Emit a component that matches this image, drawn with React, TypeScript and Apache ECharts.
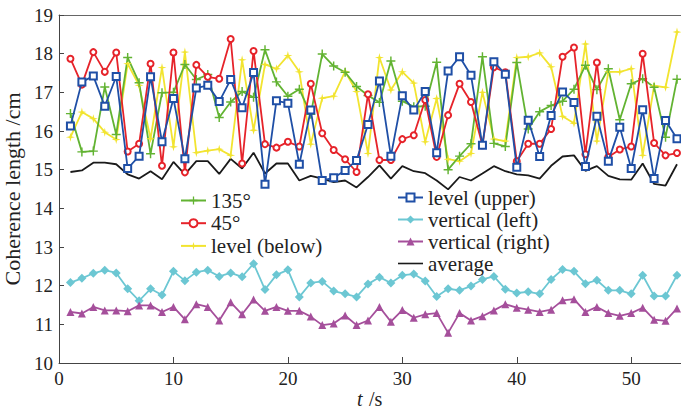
import React, { useEffect, useRef } from "react";
import * as echarts from "echarts";

const times = [1,2,3,4,5,6,7,8,9,10,11,12,13,14,15,16,17,18,19,20,21,22,23,24,25,26,27,28,29,30,31,32,33,34,35,36,37,38,39,40,41,42,43,44,45,46,47,48,49,50,51,52,53,54];

const deg135 = [16.45,15.46,15.48,17.14,15.91,17.9,17.25,15.41,16.99,17.0,17.72,17.33,17.46,16.35,16.75,17.02,16.87,18.1,17.27,16.9,17.08,16.43,17.99,17.68,17.52,17.15,16.92,16.74,17.81,16.77,16.63,16.64,17.78,15.0,15.35,15.67,17.92,15.68,15.6,17.77,16.05,16.5,16.66,16.77,17.08,17.7,17.07,17.61,16.29,17.22,17.35,17.13,15.84,17.34];
const deg45 = [17.87,17.2,18.04,17.53,18.03,15.47,15.67,17.74,15.1,18.03,14.93,17.71,17.4,17.35,18.38,15.16,18.07,15.66,15.57,15.72,15.6,17.22,15.94,15.51,15.27,14.94,16.95,15.25,15.25,15.79,15.89,16.8,15.33,16.41,17.22,16.75,15.63,17.65,17.52,15.22,15.67,15.67,16.05,17.92,18.16,15.4,17.77,15.33,15.52,15.6,18.0,15.69,15.37,15.43];
const levelBelow = [15.84,16.49,16.32,15.97,15.78,17.74,17.18,15.8,17.64,15.59,18.04,15.44,15.49,15.53,15.37,17.84,16.02,17.72,17.61,17.95,17.53,15.66,16.85,16.9,17.54,17.02,15.42,17.9,17.06,17.53,17.24,15.72,16.84,15.27,15.22,15.42,17.0,15.79,15.74,17.9,17.92,18.02,17.66,16.38,16.2,18.25,15.74,17.53,17.53,17.61,15.37,17.17,17.13,18.56];
const levelUpper = [16.13,17.27,17.42,16.64,17.41,15.03,15.35,17.4,15.72,16.84,15.28,17.11,17.18,16.76,17.33,16.6,17.51,14.62,16.78,16.72,15.14,16.54,14.72,14.79,14.98,15.24,16.17,17.29,15.35,16.91,16.54,17.02,15.44,17.55,17.92,17.44,15.63,17.79,17.47,15.06,16.28,15.34,16.4,17.01,16.74,15.08,16.38,15.22,16.1,15.03,16.55,14.77,16.27,15.8];
const verticalLeft = [12.08,12.19,12.32,12.4,12.33,11.92,11.61,11.92,11.76,12.37,12.13,12.35,12.4,12.24,12.33,12.23,12.57,11.9,12.28,12.41,11.71,12.07,12.11,11.86,11.79,11.71,12.04,12.22,12.07,12.27,12.3,12.12,11.72,11.92,11.88,11.99,12.16,12.24,11.91,11.81,11.84,11.79,12.16,12.42,12.37,12.05,12.14,11.88,11.88,11.79,12.27,11.73,11.73,12.27];
const verticalRight = [11.32,11.28,11.45,11.36,11.36,11.34,11.49,11.49,11.32,11.45,11.13,11.52,11.45,11.1,11.57,11.26,11.64,11.35,11.45,11.35,11.35,11.2,10.98,11.02,11.23,10.98,11.1,11.45,11.07,11.37,11.17,11.26,11.29,10.78,11.29,11.1,11.21,11.36,11.52,11.43,11.38,11.32,11.38,11.62,11.65,11.32,11.45,11.29,11.22,11.29,11.43,11.12,11.09,11.41];
const average = [14.94,14.98,15.18,15.18,15.14,14.88,14.77,14.96,14.75,15.2,14.88,15.22,15.22,14.89,15.28,15.03,15.44,14.9,15.16,15.16,14.72,14.84,14.77,14.68,14.72,14.54,14.81,15.11,14.77,15.09,14.96,14.91,14.72,14.49,14.81,14.72,14.9,15.09,14.96,14.88,14.85,14.77,15.1,15.34,15.37,14.97,15.09,14.84,14.75,14.74,15.16,14.63,14.59,15.14];

const legendLeft = ["135°", "45°", "level (below)"];
const legendRight = ["level (upper)", "vertical (left)", "vertical (right)", "average"];
const xNameVar = "t";
const xNameUnit = "/s";

const FONT = "'Liberation Serif', 'DejaVu Serif', serif";
const PLUS = "path://M4.2,0H5.8V4.2H10V5.8H5.8V10H4.2V5.8H0V4.2H4.2Z";
const STAR = "path://M5,0L6,4L10,5L6,6L5,10L4,6L0,5L4,4Z";
const LINE_ICON = "path://M0,4.2H25V5.8H0Z";

function pairs(vals: number[]) {
  return times.map((t, i) => [t, vals[i]]);
}

export default function App() {
  const ref = useRef<HTMLDivElement>(null);
  useEffect(() => {
    document.body.style.margin = "0";
    if (!ref.current) return;
    const chart = echarts.init(ref.current, null, { renderer: "svg" });
    const mk = (name: string, vals: number[], color: string, symbol: string, size: number, extra: any = {}) => ({
      name,
      type: "line",
      data: pairs(vals),
      symbol,
      symbolSize: size,
      showSymbol: symbol !== "none",
      lineStyle: { color, width: 1.8 },
      itemStyle: { color, borderColor: color, borderWidth: extra.borderWidth ?? 0 },
      z: extra.z ?? 2,
    });
    const legendText = { fontFamily: FONT, fontSize: 21, lineHeight: 20, color: "#222" };
    chart.setOption({
      animation: false,
      backgroundColor: "#fff",
      grid: { left: 59, top: 15, right: 0, bottom: 48, containLabel: false, outerBoundsMode: "none" },
      graphic: [
        {
          type: "text",
          left: 357,
          top: 389,
          style: { text: xNameVar, fontFamily: FONT, fontSize: 20, fontStyle: "italic", fill: "#222" },
        },
        {
          type: "text",
          left: 369,
          top: 389,
          style: { text: xNameUnit, fontFamily: FONT, fontSize: 20, fill: "#222" },
        },
      ],
      legend: [
        {
          data: legendLeft,
          orient: "vertical",
          left: 175,
          top: 185,
          itemWidth: 25,
          itemHeight: 10,
          itemGap: 1.7,
          textStyle: legendText,
        },
        {
          data: legendRight.map((n) => (n === "average" ? { name: n, icon: LINE_ICON } : n)),
          orient: "vertical",
          left: 392,
          top: 182,
          itemWidth: 25,
          itemHeight: 10,
          itemGap: 1.0,
          textStyle: legendText,
        },
      ],
      xAxis: [
        {
          type: "value",
          min: 0,
          max: 54.35,
          interval: 10,
          position: "bottom",
          axisLine: { lineStyle: { color: "#444", width: 1 } },
          axisTick: { inside: true, length: 6, lineStyle: { color: "#444" } },
          axisLabel: { fontFamily: FONT, fontSize: 19, color: "#222", margin: 6, showMaxLabel: false },
          splitLine: { show: false },
        },
        {
          type: "value",
          min: 0,
          max: 54.35,
          position: "top",
          axisLine: { show: true, lineStyle: { color: "#666", width: 1 } },
          axisTick: { show: false },
          axisLabel: { show: false },
          splitLine: { show: false },
        },
      ],
      yAxis: {
        type: "value",
        min: 10,
        max: 19,
        interval: 1,
        name: "Coherence length /cm",
        nameLocation: "middle",
        nameGap: 31,
        nameTextStyle: { fontFamily: FONT, fontSize: 22, color: "#222" },
        axisLine: { show: true, lineStyle: { color: "#444", width: 1 } },
        axisTick: { show: true, inside: true, length: 5, lineStyle: { color: "#444" } },
        axisLabel: { fontFamily: FONT, fontSize: 19, color: "#222", margin: 6 },
        splitLine: { show: false },
      },
      series: [
        mk("level (below)", levelBelow, "#f2e430", STAR, 9),
        mk("135°", deg135, "#62b332", PLUS, 9),
        mk("45°", deg45, "#e6232a", "emptyCircle", 6, { borderWidth: 1.6, z: 3 }),
        mk("level (upper)", levelUpper, "#1f4fa6", "emptyRect", 7, { borderWidth: 1.6, z: 4 }),
        mk("vertical (left)", verticalLeft, "#6cc7d3", "diamond", 9),
        mk("vertical (right)", verticalRight, "#a54f9b", "triangle", 8),
        mk("average", average, "#1a1a1a", "none", 1),
      ],
    });
    return () => chart.dispose();
  }, []);
  return <div ref={ref} style={{ width: 681, height: 411 }} />;
}
